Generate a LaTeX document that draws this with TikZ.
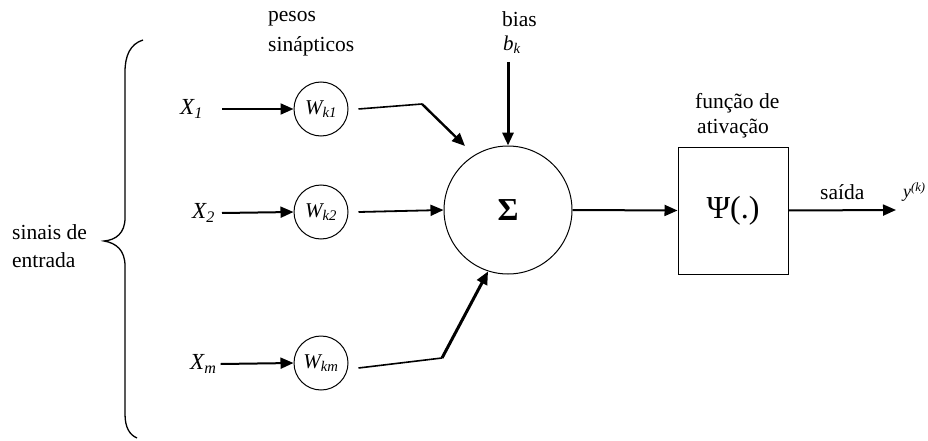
\documentclass[tikz,border=0pt]{standalone}
\usepackage{fontspec}
\setmainfont{Liberation Serif}
\usetikzlibrary{arrows.meta}
\begin{document}
\begin{tikzpicture}[x=1pt,y=-1pt,
  lbl/.style={anchor=west,inner sep=0pt,font=\fontsize{21.5}{24}\selectfont},
  var/.style={anchor=west,inner sep=0pt,font=\fontsize{23}{24}\selectfont\itshape},
  wcirc/.style={draw,circle,minimum size=54pt,inner sep=0pt,line width=1pt,font=\fontsize{21}{21}\selectfont\itshape},
  arr/.style={line width=2pt,-{Triangle[length=13pt,width=11pt]}},
  thin/.style={line width=1.6pt}]
\useasboundingbox (0,0) rectangle (928,441);
% brace
\draw[line width=1.3pt] (143,40) .. controls (130,44) and (125,56) .. (125,72) -- (125,218)
  .. controls (125,233) and (116,240) .. (104,241)
  .. controls (116,243) and (125,250) .. (125,266) -- (125,414)
  .. controls (125,428) and (130,435) .. (137,438);
\node[lbl] (sinais) at (12,232) {sinais de};
\node[lbl] (entrada) at (12,260) {entrada};
% top labels
\node[lbl] (pesos) at (268,19) {pesos};
\node[lbl] (sinap) at (268,46) {sinápticos};
\node[lbl] (bias) at (502,19) {bias};
\node[var,font=\fontsize{21}{22}\selectfont\itshape] (bk) at (503,45) {b\textsubscript{k}};
\node[lbl] (func) at (695,103) {função de};
\node[lbl] (ativ) at (697,129) {ativação};
\node[lbl] (saida) at (820,192) {saída};
\node[var,font=\fontsize{18}{20}\selectfont\itshape] (y) at (903,192) {y\textsuperscript{(k)}};
% inputs
\node[var] (x1) at (180,109) {X\textsubscript{1}};
\node[var] (x2) at (192,213) {X\textsubscript{2}};
\node[var] (xm) at (190,364) {X\textsubscript{m}};
\node[wcirc] (w1) at (321,109) {W\textsubscript{k1}};
\node[wcirc] (w2) at (321,212) {W\textsubscript{k2}};
\node[wcirc] (wm) at (321,363) {W\textsubscript{km}};
\node[draw,circle,minimum size=128pt,inner sep=0pt,line width=1pt,
  font=\fontsize{32}{34}\selectfont\bfseries] (sig) at (508,210) {Σ};
\node[draw,rectangle,minimum width=110pt,minimum height=127pt,line width=1pt,
  font=\fontsize{32}{34}\selectfont] (box) at (733,210.5) {Ψ(.)};
\coordinate (c1) at (422,104);
\coordinate (t1) at (465,146);
\coordinate (cm) at (442,358);
\coordinate (bt) at (508,62);
\coordinate (out) at (896,210);
% connectors
\draw[arr] ([xshift=19pt]x1.east) -- (w1.west);
\draw[arr] ([xshift=7pt]x2.east) -- (w2.west);
\draw[arr] ([xshift=4pt]xm.east) -- (wm.west);
\draw[thin] ([xshift=10pt]w1.east) -- (c1);
\draw[arr,line width=2.4pt] (c1) -- (t1);
\draw[arr,line width=1.8pt] ([xshift=10pt]w2.east) -- (sig.west);
\draw[thin] ([xshift=10pt,yshift=-5pt]wm.east) -- (cm);
\draw[arr,line width=3pt] (cm) -- (sig.252);
\draw[arr,line width=3pt] (bt) -- (sig.north);
\draw[arr] (sig.east) -- (box.west);
\draw[arr] (box.east) -- (out);
\end{tikzpicture}
\end{document}
